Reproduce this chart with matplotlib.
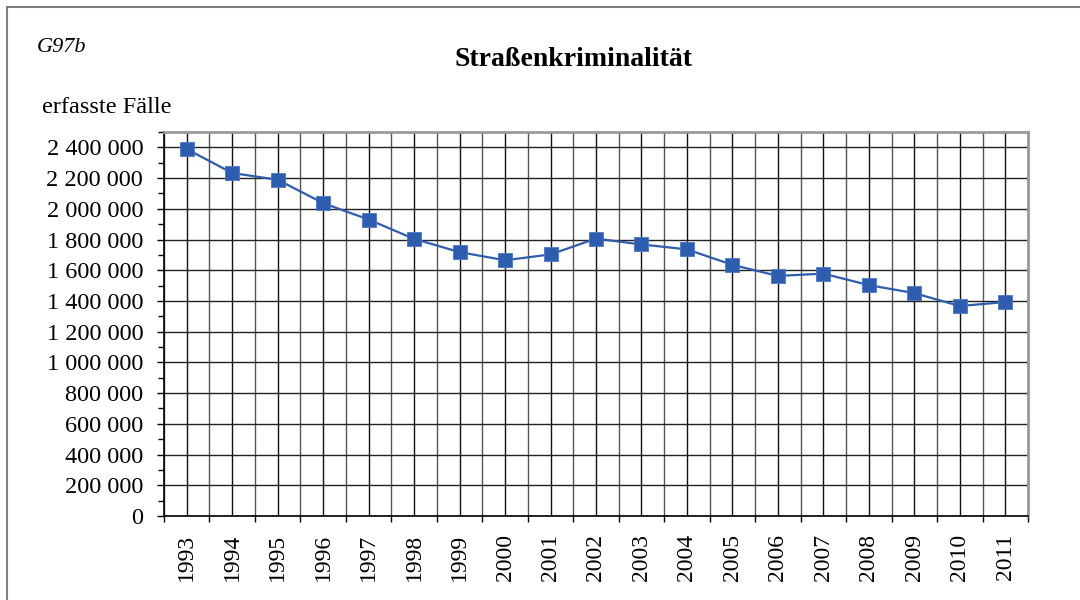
import matplotlib.pyplot as plt
from matplotlib.patches import Rectangle
from matplotlib.ticker import MultipleLocator, FuncFormatter

# Straßenkriminalität, erfasste Fälle 1993-2011
years = ['1993', '1994', '1995', '1996', '1997', '1998', '1999', '2000', '2001', '2002',
         '2003', '2004', '2005', '2006', '2007', '2008', '2009', '2010', '2011']
cases = [2389000, 2233000, 2189000, 2037000, 1930000, 1804000, 1718000, 1665000, 1703000,
         1806000, 1768000, 1736000, 1635000, 1563000, 1578000, 1503000, 1451000, 1367000, 1393000]

plt.rcParams['font.family'] = ['Liberation Serif', 'DejaVu Serif']

fig = plt.figure(figsize=(10.8, 6.0), dpi=100)
ax = fig.add_axes([164 / 1080, 1 - 516 / 600, 864 / 1080, 384 / 600])

# outer frame of the graphic (left and top edge visible)
fig.patches.append(Rectangle((7 / 1080, -0.05), 1.1, 1.05 - 7 / 600,
                             transform=fig.transFigure, fill=False,
                             edgecolor='#808080', linewidth=1.5))

x = list(range(len(years)))
ax.plot(x, cases, color='#2E5CAE', linewidth=1.6, marker='s', markersize=9.5,
        markerfacecolor='#2E5CAE', markeredgecolor='#4A78C4', markeredgewidth=0.6, zorder=5)

ax.set_xlim(-0.5, len(years) - 0.5)
ax.set_ylim(0, 2500000)

# x: labels at centers, tick marks at category boundaries
ax.set_xticks(x)
ax.set_xticklabels(years, rotation=90, fontsize=17)
ax.set_xticks([i - 0.5 for i in range(len(years) + 1)], minor=True)
ax.tick_params(axis='x', which='major', length=0, pad=13)
ax.tick_params(axis='x', which='minor', length=4.5, width=1, direction='out', color='black')

# y: labelled every 200 000, small ticks every 100 000
ax.yaxis.set_major_locator(MultipleLocator(200000))
ax.yaxis.set_minor_locator(MultipleLocator(100000))
ax.yaxis.set_major_formatter(FuncFormatter(lambda v, p: f'{int(v):,}'.replace(',', ' ')))
ax.tick_params(axis='y', which='major', length=5, width=1, direction='out', labelsize=17.5, pad=10)
ax.tick_params(axis='y', which='minor', length=4.5, width=1, direction='out')

# grid: horizontal at major y, vertical at centers and boundaries
ax.grid(True, axis='y', which='major', color='#222222', linewidth=1)
ax.grid(True, axis='x', which='major', color='#111111', linewidth=1)
ax.grid(True, axis='x', which='minor', color='#555555', linewidth=1)
ax.set_axisbelow(True)

for side in ['left', 'bottom']:
    ax.spines[side].set_color('black')
    ax.spines[side].set_linewidth(1.2)
for side in ['top', 'right']:
    ax.spines[side].set_color('#999999')
    ax.spines[side].set_linewidth(2)

fig.text(37 / 1080, 1 - 47 / 600, 'G97b', fontsize=16, style='italic', va='center', ha='left')
fig.text(573 / 1080, 1 - 60 / 600, 'Straßenkriminalität', fontsize=20, fontweight='bold',
         va='center', ha='center')
fig.text(42 / 1080, 1 - 108 / 600, 'erfasste Fälle', fontsize=17.5, va='center', ha='left')

fig.savefig('out.png', dpi=100)
plt.close(fig)
